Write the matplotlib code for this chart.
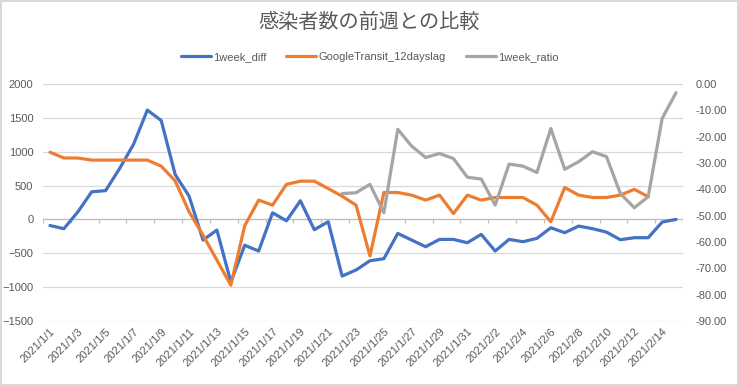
import numpy as np
import pandas as pd
import matplotlib
matplotlib.use('Agg')
import matplotlib.pyplot as plt

plt.rcParams['font.family'] = ['Liberation Sans', 'Noto Sans CJK JP', 'DejaVu Sans']

dates = pd.date_range('2021-01-01', '2021-02-15', freq='D')
date_labels = [f'{d.year}/{d.month}/{d.day}' for d in dates]

week_diff = [-90, -137, 110, 408, 425, 750, 1106, 1615, 1460, 663, 344, -305, -157, -925,
             -381, -467, 98, -20, 276, -152, -34, -836, -747, -610, -580, -207, -305, -403,
             -295, -295, -344, -221, -467, -295, -329, -280, -123, -196, -98, -137, -187,
             -300, -270, -270, -39, 0]

google_transit = [-25.9, -28.1, -28.1, -28.9, -28.9, -28.9, -28.9, -28.9, -31.2, -36.8,
                  -48.5, -57.4, -66.9, -76.4, -53.8, -44.1, -46.0, -38.1, -36.9, -36.9,
                  -39.7, -42.6, -46.0, -65.3, -41.2, -41.2, -42.2, -44.1, -42.2, -49.2,
                  -42.2, -44.1, -43.1, -43.1, -43.1, -46.0, -52.3, -39.3, -42.2, -43.1,
                  -43.1, -42.2, -40.0, -42.8, np.nan, np.nan]

week_ratio = [np.nan] * 21 + [-41.6, -41.3, -38.1, -48.9, -17.2, -23.6, -27.9, -26.4, -28.3,
                              -35.4, -36.1, -46.0, -30.4, -31.2, -33.6, -16.9, -32.4, -29.5,
                              -25.7, -27.6, -41.6, -47.0, -42.8, -13.1, -3.3]

blue = '#4472C4'
orange = '#ED7D31'
gray = '#A5A5A5'
text_col = '#595959'
grid_col = '#D9D9D9'

x = np.arange(len(dates))

fig = plt.figure(figsize=(7.39, 3.86), dpi=100)
fig.patch.set_edgecolor('#D9D9D9')
fig.patch.set_linewidth(1.5)
ax = fig.add_axes([43 / 739, 1 - 321 / 386, 640 / 739, 237 / 386])
ax2 = ax.twinx()

l1, = ax.plot(x, week_diff, color=blue, lw=2.3, label='1week_diff', solid_capstyle='round')
l2, = ax2.plot(x, google_transit, color=orange, lw=2.3, label='GoogleTransit_12dayslag', solid_capstyle='round')
l3, = ax2.plot(x, week_ratio, color=gray, lw=2.3, label='1week_ratio', solid_capstyle='round')

ax.set_ylim(-1500, 2000)
ax.set_yticks(np.arange(-1500, 2001, 500))
ax2.set_ylim(-90, 0)
ax2.set_yticks(np.arange(-90, 1, 10))
ax2.set_yticklabels([f'{v:.2f}' for v in np.arange(-90, 1, 10)])
ax.set_xlim(-0.5, len(dates) - 0.5)

ax.set_xticks(x[::2])
ax.set_xticklabels(date_labels[::2], rotation=45, ha='right', rotation_mode='anchor')

ax.grid(axis='y', color=grid_col, lw=0.9)
ax.set_axisbelow(True)
for a in (ax, ax2):
    for s in a.spines.values():
        s.set_visible(False)
ax.tick_params(axis='both', length=0, colors=text_col, labelsize=8)
ax.tick_params(axis='y', pad=7)
ax.tick_params(axis='x', pad=4)
ax2.tick_params(axis='y', length=0, colors=text_col, labelsize=8, pad=9)

# category axis crossing at zero
ax.axhline(0, color='#BFBFBF', lw=0.9, zorder=1)
ax.vlines(np.arange(-0.5, len(dates), 2), -60, 0, color='#BFBFBF', lw=0.9, zorder=1)

fig.suptitle('感染者数の前週との比較', y=0.97, fontsize=14.5, color=text_col,
             fontfamily=['Noto Sans CJK JP', 'DejaVu Sans'])
fig.legend(handles=[l1, l2, l3], loc='center', bbox_to_anchor=(0.5, 1 - 57 / 386),
           ncol=3, frameon=False, fontsize=8, labelcolor=text_col,
           handlelength=2.7, columnspacing=1.8, handletextpad=0.2)

fig.savefig('out.png', dpi=100)
plt.close(fig)
